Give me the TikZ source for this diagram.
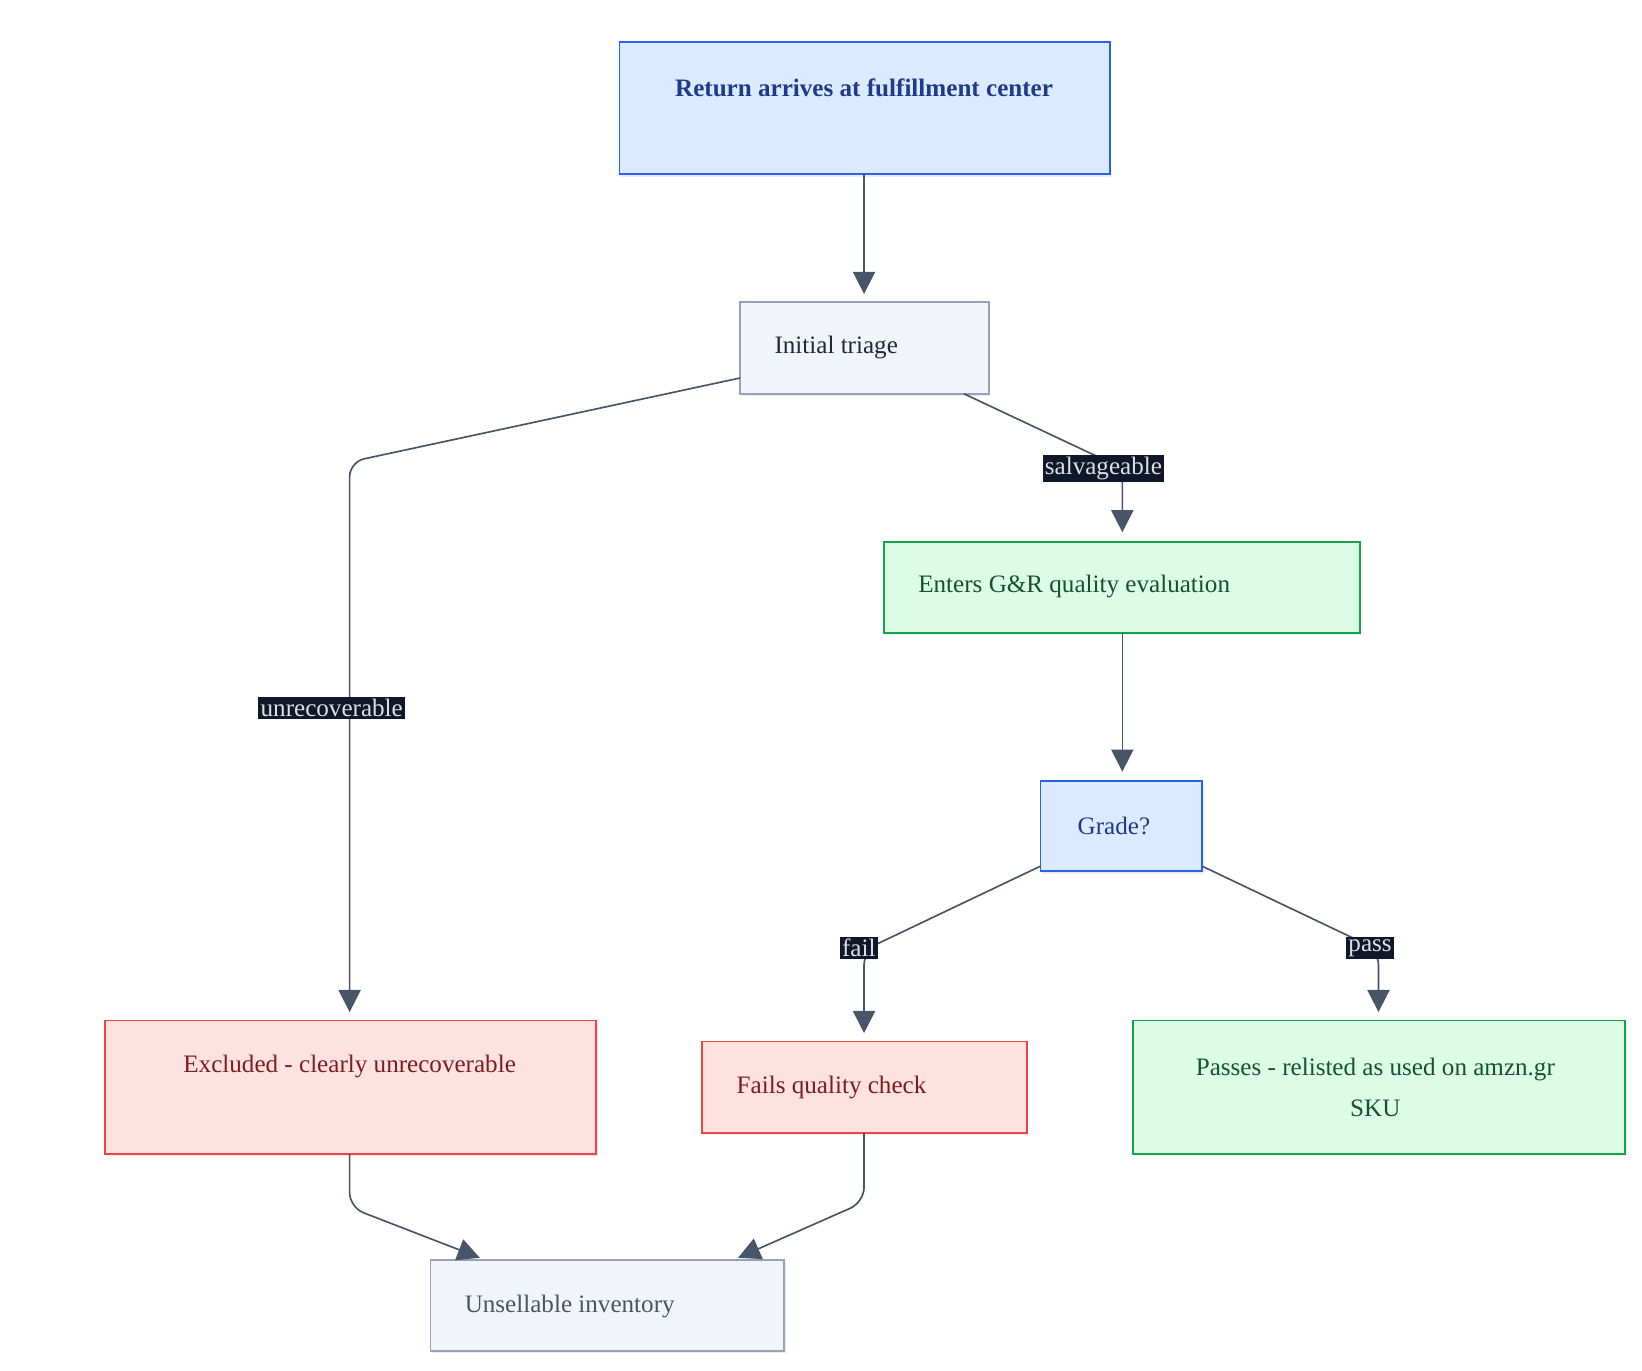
\documentclass[tikz,border=0pt]{standalone}
\usepackage{fontspec}
\setmainfont{Liberation Serif}
\usetikzlibrary{arrows.meta,shadows}
\definecolor{bluefill}{HTML}{DBEAFE}\definecolor{blueline}{HTML}{2563EB}\definecolor{bluetext}{HTML}{1E3A8A}
\definecolor{grayfill}{HTML}{F1F5F9}\definecolor{grayline}{HTML}{94A3B8}\definecolor{graytext}{HTML}{1E293B}
\definecolor{greenfill}{HTML}{DCFCE7}\definecolor{greenline}{HTML}{16A34A}\definecolor{greentext}{HTML}{14532D}
\definecolor{redfill}{HTML}{FEE2E2}\definecolor{redline}{HTML}{EF4444}\definecolor{redtext}{HTML}{7F1D1D}
\definecolor{edgecol}{HTML}{475569}\definecolor{labfill}{HTML}{0F172A}
\tikzset{
  box/.style={draw, line width=0.5pt, inner sep=0pt, drop shadow={opacity=0.15,shadow xshift=0.4pt,shadow yshift=-0.6pt}},
  bluebox/.style={box, fill=bluefill, draw=blueline},
  graybox/.style={box, fill=grayfill, draw=grayline},
  greenbox/.style={box, fill=greenfill, draw=greenline},
  redbox/.style={box, fill=redfill, draw=redline},
  txt/.style={font=\fontsize{6.8}{11}\selectfont, inner sep=0pt, align=center},
  edge/.style={draw=edgecol, line width=0.45pt, rounded corners=4pt, -{Triangle[length=6pt,width=6pt]}},
  lab/.style={fill=labfill, text=gray!25, font=\fontsize{6.8}{8}\selectfont, inner sep=0.6pt}
}
\begin{document}
\begin{tikzpicture}[x=0.01cm,y=-0.01cm]
  \useasboundingbox (0,0) rectangle (1564,1305);

  % boxes
  \draw[bluebox] (590,40) rectangle (1057,166);
  \draw[graybox] (705,288) rectangle (942,375);
  \draw[greenbox] (842,516) rectangle (1295,603);
  \draw[bluebox] (991,744) rectangle (1145,830);
  \draw[redbox] (100,972) rectangle (568,1099);
  \draw[redbox] (669,992) rectangle (978,1079);
  \draw[greenbox] (1079,972) rectangle (1548,1099);
  \draw[graybox] (410,1200) rectangle (747,1287);

  % texts
  \node[txt, text=bluetext, font=\fontsize{6.8}{11}\selectfont\bfseries] (arrive) at (823,84) {Return arrives at fulfillment center};
  \node[txt, text=graytext, anchor=west] (triage) at (737,331) {Initial triage};
  \node[txt, text=greentext, anchor=west] (enters) at (874,559) {Enters G\&R quality evaluation};
  \node[txt, text=bluetext] (grade) at (1061,787) {Grade?};
  \node[txt, text=redtext] (excluded) at (333,1016) {Excluded - clearly unrecoverable};
  \node[txt, text=redtext, anchor=west] (fails) at (701,1036) {Fails quality check};
  \node[txt, text=greentext] (passes) at (1310,1036) {Passes - relisted as used on amzn.gr\\SKU};
  \node[txt, text=graytext!80, anchor=west] (unsell) at (442,1244) {Unsellable inventory};

  % connector ends
  \coordinate (a1) at (823,166);  \coordinate (a2) at (823,280);
  \coordinate (t1) at (705,360);  \coordinate (t2) at (918,375);
  \coordinate (x1) at (333,964);  \coordinate (s1) at (1069,507);
  \coordinate (e1) at (1069,603); \coordinate (e2) at (1069,735);
  \coordinate (g1) at (991,825);  \coordinate (g2) at (1145,825);
  \coordinate (f1) at (823,984);  \coordinate (p1) at (1313,964);
  \coordinate (b1) at (333,1099); \coordinate (b2) at (823,1079);
  \coordinate (u1) at (457,1198); \coordinate (u2) at (703,1198);

  % connectors
  \draw[edge] (a1) -- (a2);
  \draw[edge] (t1) -- (333,440) -- (x1);
  \draw[edge] (t2) -- (1069,446) -- (s1);
  \draw[edge] (e1) -- (e2);
  \draw[edge] (g1) -- (823,905) -- (f1);
  \draw[edge] (g2) -- (1313,905) -- (p1);
  \draw[edge] (b1) -- (333,1150) -- (u1);
  \draw[edge] (b2) -- (823,1145) -- (u2);

  % edge labels
  \node[lab] (lunrec) at (316,674) {unrecoverable};
  \node[lab] (lsalv) at (1051,446) {salvageable};
  \node[lab] (lfail) at (818,903) {fail};
  \node[lab] (lpass) at (1305,903) {pass};
\end{tikzpicture}
\end{document}
